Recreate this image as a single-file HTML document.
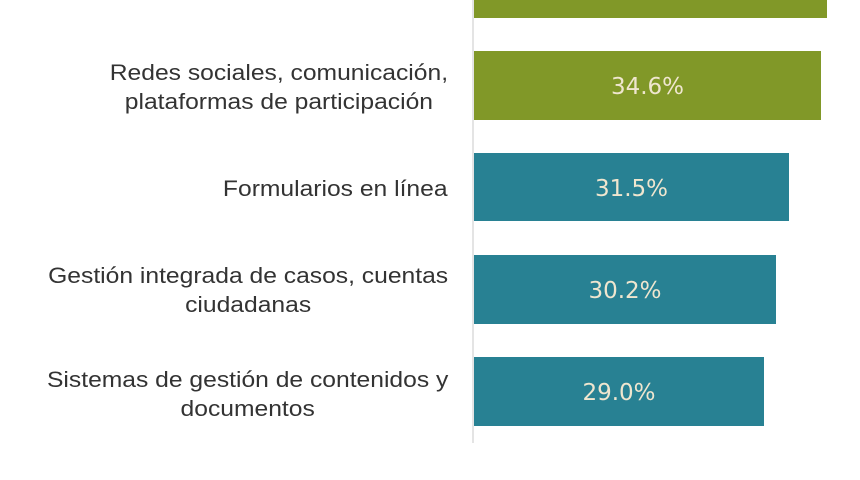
<!DOCTYPE html>
<html><head><meta charset="utf-8"><style>
body{margin:0;width:860px;height:480px;background:#fff;position:relative;overflow:hidden;font-family:"Liberation Sans",sans-serif}
.ax{position:absolute;left:472px;top:0;width:2px;height:443px;background:#e4e4e4}
.bar{position:absolute;left:474px;color:#efe6cf;font-size:23px;font-family:"DejaVu Sans",sans-serif;display:flex;align-items:center;justify-content:center;padding-top:3px;box-sizing:border-box}
.g{background:#819828}.t{background:#288193}
.lab{position:absolute;right:412px;text-align:center;color:#333;font-size:22px;line-height:29px;transform:scaleX(1.12);transform-origin:right center}
</style></head><body>
<div class="ax"></div>
<div class="bar g" style="top:-50px;height:68px;width:353px"></div>
<div class="bar g" style="top:51px;height:69px;width:347px">34.6%</div>
<div class="bar t" style="top:153px;height:68px;width:315px">31.5%</div>
<div class="bar t" style="top:255px;height:69px;width:302px">30.2%</div>
<div class="bar t" style="top:357px;height:69px;width:290px">29.0%</div>
<div class="lab" style="top:58px">Redes sociales, comunicación,<br>plataformas de participación</div>
<div class="lab" style="top:174px">Formularios en línea</div>
<div class="lab" style="top:261px">Gestión integrada de casos, cuentas<br>ciudadanas</div>
<div class="lab" style="top:365px">Sistemas de gestión de contenidos y<br>documentos</div>
</body></html>
